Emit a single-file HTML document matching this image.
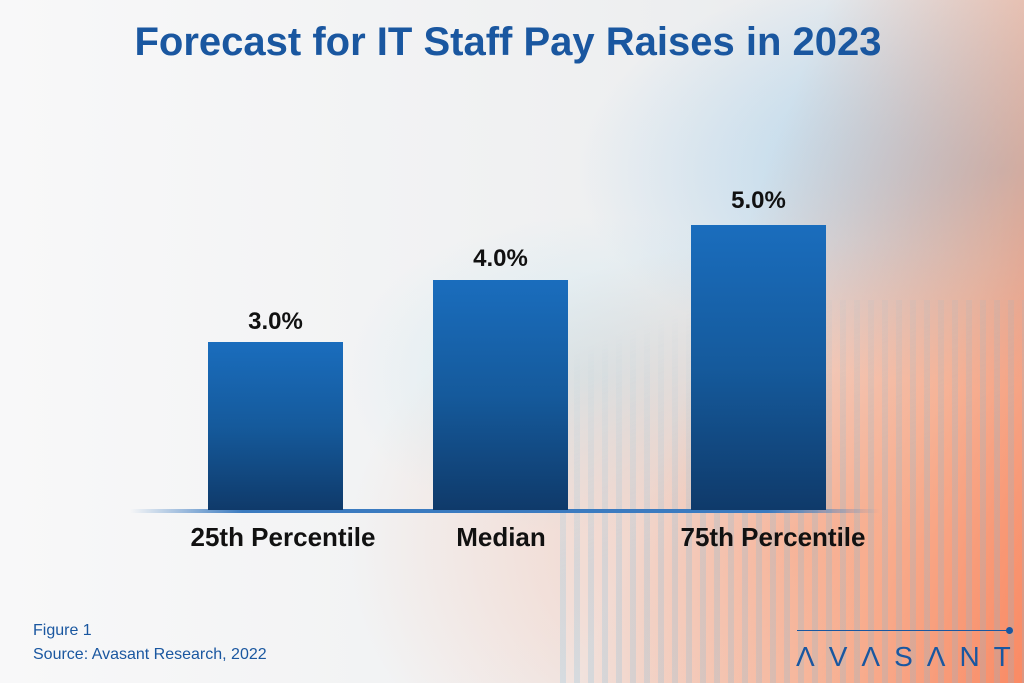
<!DOCTYPE html>
<html><head><style>
body{margin:0;width:1024px;height:683px;overflow:hidden;font-family:"Liberation Sans",sans-serif}
#c{position:relative;width:1024px;height:683px;
background:
linear-gradient(110deg,rgba(255,255,255,0) 65%,rgba(255,140,90,0.5) 85%,rgba(255,110,60,0.75) 100%),
radial-gradient(ellipse at 98% 25%,rgba(80,170,230,0.45),rgba(255,255,255,0) 30%),
radial-gradient(ellipse at 78% 80%,rgba(250,170,140,0.55),rgba(255,255,255,0) 40%),
radial-gradient(ellipse at 58% 55%,rgba(180,225,240,0.45),rgba(255,255,255,0) 30%),
linear-gradient(90deg,#f8f8f9 0%,#f0f1f2 50%,#e6e8eb 100%);}
.stripes{position:absolute;left:560px;top:300px;width:464px;height:383px;
background:repeating-linear-gradient(90deg,rgba(120,190,225,0.22) 0 6px,rgba(255,255,255,0) 6px 14px);
-webkit-mask:linear-gradient(160deg,transparent 10%,#000 50%);mask:linear-gradient(160deg,transparent 10%,#000 50%)}
.t{position:absolute;left:-4px;width:1024px;top:20px;text-align:center;font-weight:bold;font-size:40px;color:#1a57a0}
.bar{position:absolute;width:135px;bottom:173px;background:linear-gradient(180deg,#1a6dbd 0%,#155a9c 50%,#0f3a6a 100%)}
.v{position:absolute;width:135px;text-align:center;font-weight:bold;font-size:24px;color:#111}
.l{position:absolute;top:522px;font-weight:bold;font-size:26px;color:#111;text-align:center;width:300px}
.base{position:absolute;left:130px;top:509px;width:750px;height:4px;background:linear-gradient(90deg,rgba(60,120,190,0),#3b7bc0 15%,#3b7bc0 85%,rgba(60,120,190,0))}
.f{position:absolute;left:33px;font-size:16px;color:#1a57a0}
</style></head><body><div id="c">
<div class="stripes"></div>
<div class="t">Forecast for IT Staff Pay Raises in 2023</div>
<div class="base"></div>
<div class="bar" style="left:208px;top:342px"></div>
<div class="bar" style="left:433px;top:280px"></div>
<div class="bar" style="left:691px;top:225px"></div>
<div class="v" style="left:208px;top:308px">3.0%</div>
<div class="v" style="left:433px;top:245px">4.0%</div>
<div class="v" style="left:691px;top:187px">5.0%</div>
<div class="l" style="left:133px">25th Percentile</div>
<div class="l" style="left:351px">Median</div>
<div class="l" style="left:623px">75th Percentile</div>
<div class="f" style="top:622px">Figure 1</div>
<div class="f" style="top:646px">Source: Avasant Research, 2022</div>
<div style="position:absolute;left:797px;top:630px;width:212px;height:1px;background:#1a57a0"></div>
<div style="position:absolute;left:1006px;top:627px;width:7px;height:7px;border-radius:50%;background:#1a57a0"></div>
<div style="position:absolute;left:796px;top:641px;font-size:28px;color:#1a57a0;letter-spacing:14px;white-space:nowrap">ΛVΛSΛNT</div>
</div></body></html>
